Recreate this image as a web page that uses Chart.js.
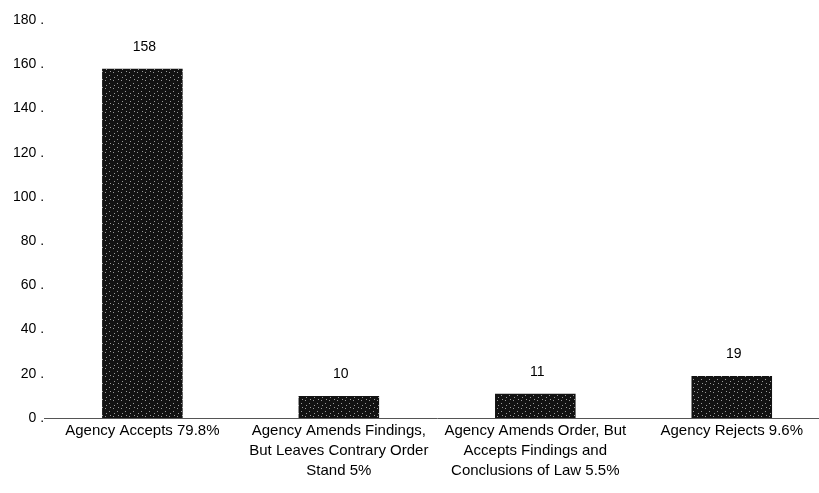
<!DOCTYPE html>
<html lang="en">
<head>
    <meta charset="UTF-8">
    <title>Agency Action on ALJ Decisions</title>
    <script src="https://cdnjs.cloudflare.com/ajax/libs/Chart.js/4.4.1/chart.umd.min.js"></script>
    <style>
        html, body {
            margin: 0;
            padding: 0;
            background-color: white;
            overflow: hidden;
        }
        .chart {
            width: 819px;
            height: 493px;
            overflow: hidden;
        }
    </style>
</head>
<body>
<div class="chart">
    <canvas id="outcomeChart" width="830" height="493"></canvas>
</div>
<script>
    // Chart data
    const categories = [
        ['Agency Accepts 79.8%'],
        ['Agency Amends Findings,', 'But Leaves Contrary Order', 'Stand 5%'],
        ['Agency Amends Order, But', 'Accepts Findings and', 'Conclusions of Law 5.5%'],
        ['Agency Rejects 9.6%']
    ];
    const counts = [158, 10, 11, 19];
    const yTicks = [0, 20, 40, 60, 80, 100, 120, 140, 160, 180];

    // Stippled fill like the printed original
    function makeStipple() {
        const c = document.createElement('canvas');
        c.width = 8;
        c.height = 8;
        const g = c.getContext('2d');
        g.fillStyle = '#121212';
        g.fillRect(0, 0, 8, 8);
        g.fillStyle = '#9a9a9a';
        [[1, 0], [5, 3], [2, 5], [6, 7]].forEach(p => g.fillRect(p[0], p[1], 1, 1));
        return g.createPattern(c, 'repeat');
    }

    // Draw the count above each bar
    const valueLabels = {
        id: 'valueLabels',
        afterDatasetsDraw(chart) {
            const ctx = chart.ctx;
            const meta = chart.getDatasetMeta(0);
            ctx.save();
            ctx.font = '14px "Liberation Sans", Arial, sans-serif';
            ctx.fillStyle = '#000';
            ctx.textAlign = 'center';
            ctx.textBaseline = 'bottom';
            meta.data.forEach((bar, i) => {
                ctx.fillText(String(counts[i]), bar.x + 2, bar.y - 15);
            });
            ctx.restore();
        }
    };

    new Chart(document.getElementById('outcomeChart').getContext('2d'), {
        type: 'bar',
        data: {
            labels: categories,
            datasets: [{
                data: counts,
                backgroundColor: makeStipple(),
                borderWidth: 0,
                barPercentage: 0.41,
                categoryPercentage: 1.0
            }]
        },
        options: {
            responsive: false,
            animation: false,
            layout: {
                padding: { top: 20, right: 0, left: 13, bottom: 9 }
            },
            plugins: {
                legend: { display: false },
                tooltip: { enabled: false }
            },
            scales: {
                x: {
                    grid: { display: false, drawTicks: false },
                    border: { display: true, color: '#555', width: 1, dash: [3, 2] },
                    ticks: {
                        color: '#000',
                        padding: 3,
                        maxRotation: 0,
                        autoSkip: false,
                        font: { family: '"Liberation Sans", Arial, sans-serif', size: 15, lineHeight: '20px' }
                    }
                },
                y: {
                    min: 0,
                    max: 180,
                    afterBuildTicks: axis => {
                        axis.ticks = yTicks.map(v => ({ value: v }));
                    },
                    grid: { display: false, drawTicks: false },
                    border: { display: false },
                    ticks: {
                        color: '#000',
                        padding: 0,
                        callback: v => v + ' .',
                        font: { family: '"Liberation Sans", Arial, sans-serif', size: 14 }
                    }
                }
            }
        },
        plugins: [valueLabels]
    });
</script>
</body>
</html>
